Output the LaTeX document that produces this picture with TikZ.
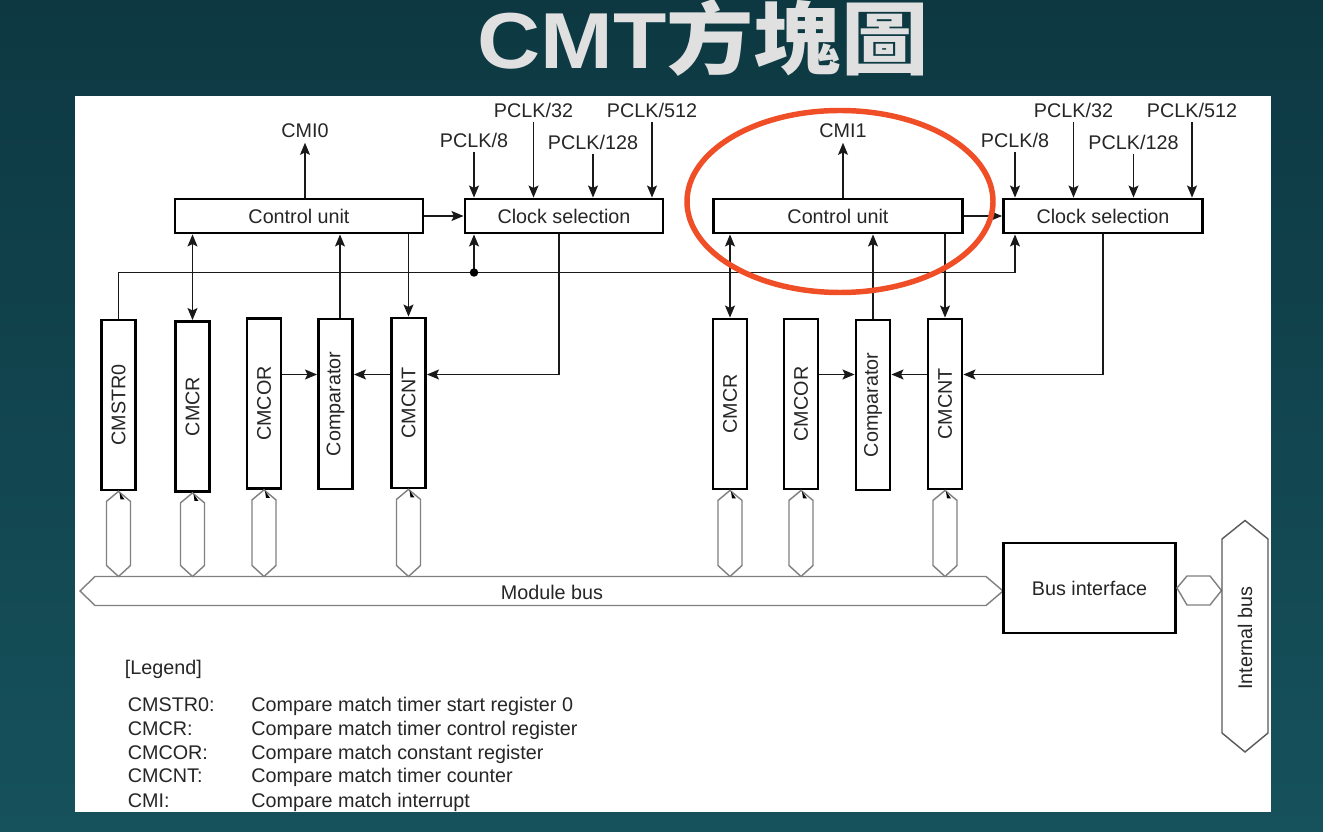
\documentclass[tikz,border=0pt]{standalone}
\usepackage{graphicx}
\usepackage{fontspec}
\setmainfont{Liberation Sans}
\newfontfamily\cjk{Noto Sans CJK TC}
\usetikzlibrary{arrows.meta,calc}
\newdimen\pxu \pxu=0.5669pt
\definecolor{bgtop}{RGB}{13,56,66}
\definecolor{bgbot}{RGB}{22,82,92}
\definecolor{hilite}{RGB}{240,78,38}

% register bus link: hexagon from a register's bottom to the module bus
\newcommand\regbus[1]{%
  \draw[bus] (#1.south) -- ++(12,10) -- ($(#1.south |- mbtop)+(12,-11)$)
    -- (#1.south |- mbtop) -- ++(-12,-11) -- ($(#1.south)+(-12,10)$) -- cycle;
  \fill[black] ($(#1.south)+(1,1)$) -- ++(5,7) -- ++(-4,0) -- cycle;}

\begin{document}
\begin{tikzpicture}[x=0.5669pt,y=-0.5669pt,
  every node/.style={font=\fontsize{11.2}{13}\selectfont, text=black!85, inner sep=0pt},
  blk/.style={draw=black, line width=1.6pt, fill=white},
  reg/.style={blk, minimum width=34\pxu, minimum height=170\pxu},
  wire/.style={line width=0.9pt, draw=black!90},
  tip/.tip={Stealth[length=6.8pt,width=5.6pt,inset=1.3pt]},
  arr/.style={wire, -tip},
  darr/.style={wire, tip-tip},
  bus/.style={draw=black!50, line width=0.8pt, fill=white},
  lbl/.style={inner sep=2.5pt},
  lgd/.style={anchor=base west}
]
% backdrop and sheet
\shade[top color=bgtop, bottom color=bgbot] (0,0) rectangle (1323,832);
\useasboundingbox (0,0) rectangle (1323,832);
\fill[white] (75,96) rectangle (1271,812);

% heading
\node[font=\bfseries\fontsize{45}{45}\selectfont, text=white!88!black] (title) at (703,38)
  {\scalebox{1.1}[1]{CMT\cjk 方塊圖}};

% ---------- channel 0 ----------
\node[blk, minimum width=248\pxu, minimum height=34\pxu] (cuL) at (299,216) {Control unit};
\node[blk, minimum width=198\pxu, minimum height=34\pxu] (csL) at (564,216) {Clock selection};
\node[lbl] (cmi0) at (305,131) {CMI0};
\node[lbl] (p8L) at (474,140) {PCLK/8};
\node[lbl] (p32L) at (533.5,110) {PCLK/32};
\node[lbl] (p128L) at (593,142) {PCLK/128};
\node[lbl] (p512L) at (652,110) {PCLK/512};

\node[reg] (strL) at (118.5,405) {\rotatebox{90}{CMSTR0}};
\node[reg] (crL) at (192.5,406.5) {\rotatebox{90}{CMCR}};
\node[reg] (corL) at (264,403.5) {\rotatebox{90}{CMCOR}};
\node[reg] (cmpL) at (335.5,404) {\rotatebox{90}{Comparator}};
\node[reg] (cntL) at (408.5,403) {\rotatebox{90}{CMCNT}};

% ---------- channel 1 ----------
\node[blk, minimum width=249\pxu, minimum height=34\pxu] (cuR) at (838,216) {Control unit};
\node[blk, minimum width=199\pxu, minimum height=34\pxu] (csR) at (1103,216) {Clock selection};
\node[lbl] (cmi1) at (843,131) {CMI1};
\node[lbl] (p8R) at (1015,140) {PCLK/8};
\node[lbl] (p32R) at (1073.5,110) {PCLK/32};
\node[lbl] (p128R) at (1133.5,142) {PCLK/128};
\node[lbl] (p512R) at (1192,110) {PCLK/512};

\node[reg] (crR) at (730,404) {\rotatebox{90}{CMCR}};
\node[reg] (corR) at (801,404) {\rotatebox{90}{CMCOR}};
\node[reg] (cmpR) at (873,405) {\rotatebox{90}{Comparator}};
\node[reg] (cntR) at (945,404) {\rotatebox{90}{CMCNT}};

% levels used by the wiring
\coordinate (lvL) at (0,374.5);
\coordinate (lvR) at (0,374.5);
\coordinate (bj) at (474,272.5);
\coordinate (mbtop) at (0,576.5);

% clock inputs and interrupt outputs
\foreach \p/\c in {p8L/csL,p32L/csL,p128L/csL,p512L/csL,p8R/csR,p32R/csR,p128R/csR,p512R/csR}
  \draw[arr] (\p.south) -- (\p.south |- \c.north);
\draw[arr] (cuL.north -| cmi0) -- (cmi0.south);
\draw[arr] (cuR.north -| cmi1) -- (cmi1.south);
\draw[arr] (cuL.east) -- (csL.west);
\draw[arr] (cuR.east) -- (csR.west);

% start register to both clock selections
\draw[arr] (strL.north) |- (bj) -| (csR.south -| p8R);
\draw[arr] (bj) -- (csL.south -| bj);
\fill (bj) circle (2.4pt);

% channel 0 wiring
\draw[darr] (crL.north) -- (crL.north |- cuL.south);
\draw[arr] ([xshift=4.5\pxu]cmpL.north) -- ([xshift=4.5\pxu]cmpL.north |- cuL.south);
\draw[arr] (cuL.south -| cntL) -- (cntL.north);
\draw[arr] ([xshift=-5\pxu]csL.south) |- (cntL.east |- lvL);
\draw[arr] (corL.east |- lvL) -- (cmpL.west |- lvL);
\draw[arr] (cntL.west |- lvL) -- (cmpL.east |- lvL);

% channel 1 wiring
\draw[darr] (crR.north) -- (crR.north |- cuR.south);
\draw[arr] (cmpR.north) -- (cmpR.north |- cuR.south);
\draw[arr] (cuR.south -| cntR) -- (cntR.north);
\draw[arr] (csR.south) |- (cntR.east |- lvR);
\draw[arr] (corR.east |- lvR) -- (cmpR.west |- lvR);
\draw[arr] (cntR.west |- lvR) -- (cmpR.east |- lvR);

% buses
\draw[bus] (80,591) -- (95,576.5) -- (986,576.5) -- (1003,591) -- (986,605.5) -- (95,605.5) -- cycle;
\node (mb) at (552,592) {Module bus};
\foreach \r in {strL,crL,corL,cntL,crR,corR,cntR} {\regbus{\r}}

\node[blk, minimum width=172\pxu, minimum height=90\pxu] (bif) at (1089.5,588) {Bus interface};
\draw[bus] (bif.east) -- (1187,576) -- (1210,576) -- (1221.5,590.5) -- (1210,605) -- (1187,605) -- cycle;
\draw[bus, draw=black!65] (1245,520.5) -- (1268,539) -- (1268,733) -- (1245,752) -- (1222,733) -- (1222,539) -- cycle;
\node (ib) at (1245,638) {\rotatebox{90}{Internal bus}};

% highlight around channel 1 control unit
\draw[line width=3.1pt, hilite] (840,201.5) ellipse [x radius=153, y radius=91];

% legend
\node[lgd] (lg) at (124.5,674) {[Legend]};
\node[lgd] (k1) at (127.5,711.5) {CMSTR0:};
\node[lgd] (k2) at (127.5,735.5) {CMCR:};
\node[lgd] (k3) at (127.5,759) {CMCOR:};
\node[lgd] (k4) at (127.5,782.5) {CMCNT:};
\node[lgd] (k5) at (127.5,807.5) {CMI:};
\node[lgd] (d1) at (251,711.5) {Compare match timer start register 0};
\node[lgd] (d2) at (251,735.5) {Compare match timer control register};
\node[lgd] (d3) at (251,759) {Compare match constant register};
\node[lgd] (d4) at (251,782.5) {Compare match timer counter};
\node[lgd] (d5) at (251,807.5) {Compare match interrupt};
\end{tikzpicture}
\end{document}
